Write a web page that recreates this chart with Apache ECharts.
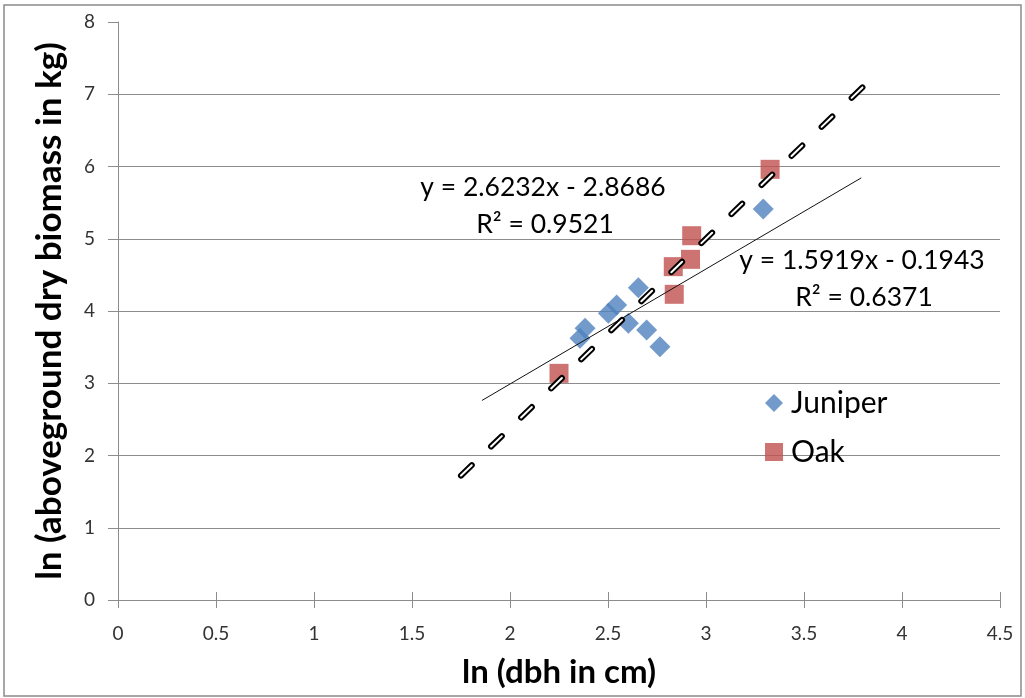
<!DOCTYPE html>
<html>
<head>
<meta charset="utf-8">
<script src="https://cdn.jsdelivr.net/npm/echarts@6/dist/echarts.min.js"></script>
<style>
  html, body { margin: 0; padding: 0; background: #ffffff; }
  #chart { width: 1025px; height: 698px; }
</style>
</head>
<body>
<div id="chart"></div>
<script>
// ln(dbh) vs ln(aboveground dry biomass) for two species
const juniperX = [2.357, 2.383, 2.502, 2.544, 2.604, 2.655, 2.697, 2.765, 3.292];
const juniperY = [3.622, 3.760, 3.968, 4.083, 3.830, 4.323, 3.737, 3.506, 5.412];
const oakX = [2.250, 2.833, 2.838, 2.921, 2.927, 3.327];
const oakY = [3.137, 4.614, 4.231, 4.715, 5.042, 5.961];

// Linear fits as reported in the equation labels: [slope, intercept, R²]
const juniperFit = [1.5919, -0.1943, 0.6371];
const oakFit = [2.6232, -2.8686, 0.9521];
// x-range over which each fitted line is drawn
const juniperFitRange = [1.857, 3.792];
const oakFitRange = [1.75, 3.82];

const xTicks = { min: 0, max: 4.5, step: 0.5 };
const yTicks = { min: 0, max: 8, step: 1 };

const FONT = 'Lato, "Open Sans", sans-serif';

function pairs(xs, ys) { return xs.map((x, i) => [x, ys[i]]); }
function fitLine(fit, range) {
  return range.map(x => [x, fit[0] * x + fit[1]]);
}
function eqText(fit) {
  const b = fit[1];
  return 'y = ' + fit[0].toFixed(4) + 'x ' + (b < 0 ? '- ' : '+ ') + Math.abs(b).toFixed(4);
}

const chart = echarts.init(document.getElementById('chart'), null, { renderer: 'canvas' });

const gridColor = '#8c8c8c';
const splitColors = [];
for (let v = yTicks.min; v <= yTicks.max; v += yTicks.step) {
  splitColors.push(v === yTicks.max ? 'rgba(0,0,0,0)' : gridColor);
}

const oakDash = [15, 26.8];

chart.setOption({
  animation: false,
  backgroundColor: '#ffffff',
  grid: { left: 118, right: 25, top: 22, bottom: 98, containLabel: false },
  xAxis: [
    {
      type: 'value',
      min: xTicks.min, max: xTicks.max, interval: xTicks.step,
      name: 'ln (dbh in cm)',
      nameLocation: 'middle',
      nameGap: 56,
      nameTextStyle: { fontFamily: FONT, fontWeight: 'bold', fontSize: 33, color: '#000' },
      axisLine: { onZero: false, lineStyle: { color: gridColor, width: 1 } },
      axisTick: { show: true, inside: false, length: 8, lineStyle: { color: gridColor } },
      axisLabel: { fontFamily: FONT, fontSize: 19, color: '#333', margin: 24 },
      splitLine: { show: false }
    },
    {
      type: 'value',
      min: xTicks.min, max: xTicks.max, interval: xTicks.step,
      position: 'bottom',
      axisLine: { show: false, onZero: false },
      axisTick: { show: true, inside: true, length: 8, lineStyle: { color: gridColor } },
      axisLabel: { show: false },
      splitLine: { show: false }
    }
  ],
  yAxis: {
    type: 'value',
    min: yTicks.min, max: yTicks.max, interval: yTicks.step,
    name: 'ln (aboveground dry biomass in kg)',
    nameLocation: 'middle',
    nameGap: 51,
    nameRotate: 90,
    nameTextStyle: { fontFamily: FONT, fontWeight: 'bold', fontSize: 35, color: '#000' },
    axisLine: { show: true, lineStyle: { color: gridColor, width: 1 } },
    axisTick: { show: true, inside: false, length: 10, lineStyle: { color: gridColor } },
    axisLabel: { fontFamily: FONT, fontSize: 19, color: '#333', margin: 23 },
    splitLine: { show: true, lineStyle: { color: splitColors, width: 1 } }
  },
  legend: {
    orient: 'vertical',
    left: 760,
    top: 383,
    itemWidth: 18,
    itemHeight: 18,
    itemGap: 19,
    data: ['Juniper', 'Oak'],
    textStyle: { fontFamily: FONT, fontSize: 30, color: '#000', padding: [0, 0, 0, 3] }
  },
  series: [
    {
      name: 'Juniper',
      type: 'scatter',
      symbol: 'diamond',
      symbolSize: 21,
      itemStyle: { color: '#4F81BD' },
      data: pairs(juniperX, juniperY),
      z: 2
    },
    {
      name: 'Oak',
      type: 'scatter',
      symbol: 'rect',
      symbolSize: 19,
      itemStyle: { color: '#C0504D' },
      data: pairs(oakX, oakY),
      z: 2
    },
    {
      name: 'Juniper fit',
      type: 'line',
      showSymbol: false,
      symbol: 'none',
      lineStyle: { color: '#111', width: 1 },
      data: fitLine(juniperFit, juniperFitRange),
      z: 3
    },
    {
      name: 'Oak fit',
      type: 'line',
      showSymbol: false,
      symbol: 'none',
      lineStyle: { color: '#000', width: 6, type: oakDash, cap: 'round' },
      data: fitLine(oakFit, oakFitRange),
      z: 4
    },
    {
      name: 'Oak fit core',
      type: 'line',
      showSymbol: false,
      symbol: 'none',
      lineStyle: { color: '#fff', width: 2, type: oakDash, cap: 'round' },
      data: fitLine(oakFit, oakFitRange),
      z: 5
    }
  ],
  graphic: [
    {
      type: 'rect',
      shape: { x: 4, y: 5, width: 1017, height: 691 },
      style: { fill: 'none', stroke: '#8a8a8a', lineWidth: 1.5 },
      silent: true, z: 0
    },
    {
      type: 'text', x: 543, y: 187,
      style: { text: eqText(oakFit), font: '26.5px ' + FONT, fill: '#000', textAlign: 'center', textVerticalAlign: 'middle' }
    },
    {
      type: 'text', x: 545, y: 224,
      style: { text: 'R² = ' + oakFit[2].toFixed(4), font: '26.5px ' + FONT, fill: '#000', textAlign: 'center', textVerticalAlign: 'middle' }
    },
    {
      type: 'text', x: 862, y: 260,
      style: { text: eqText(juniperFit), font: '26.5px ' + FONT, fill: '#000', textAlign: 'center', textVerticalAlign: 'middle' }
    },
    {
      type: 'text', x: 864, y: 297,
      style: { text: 'R² = ' + juniperFit[2].toFixed(4), font: '26.5px ' + FONT, fill: '#000', textAlign: 'center', textVerticalAlign: 'middle' }
    }
  ]
});
</script>
</body>
</html>
